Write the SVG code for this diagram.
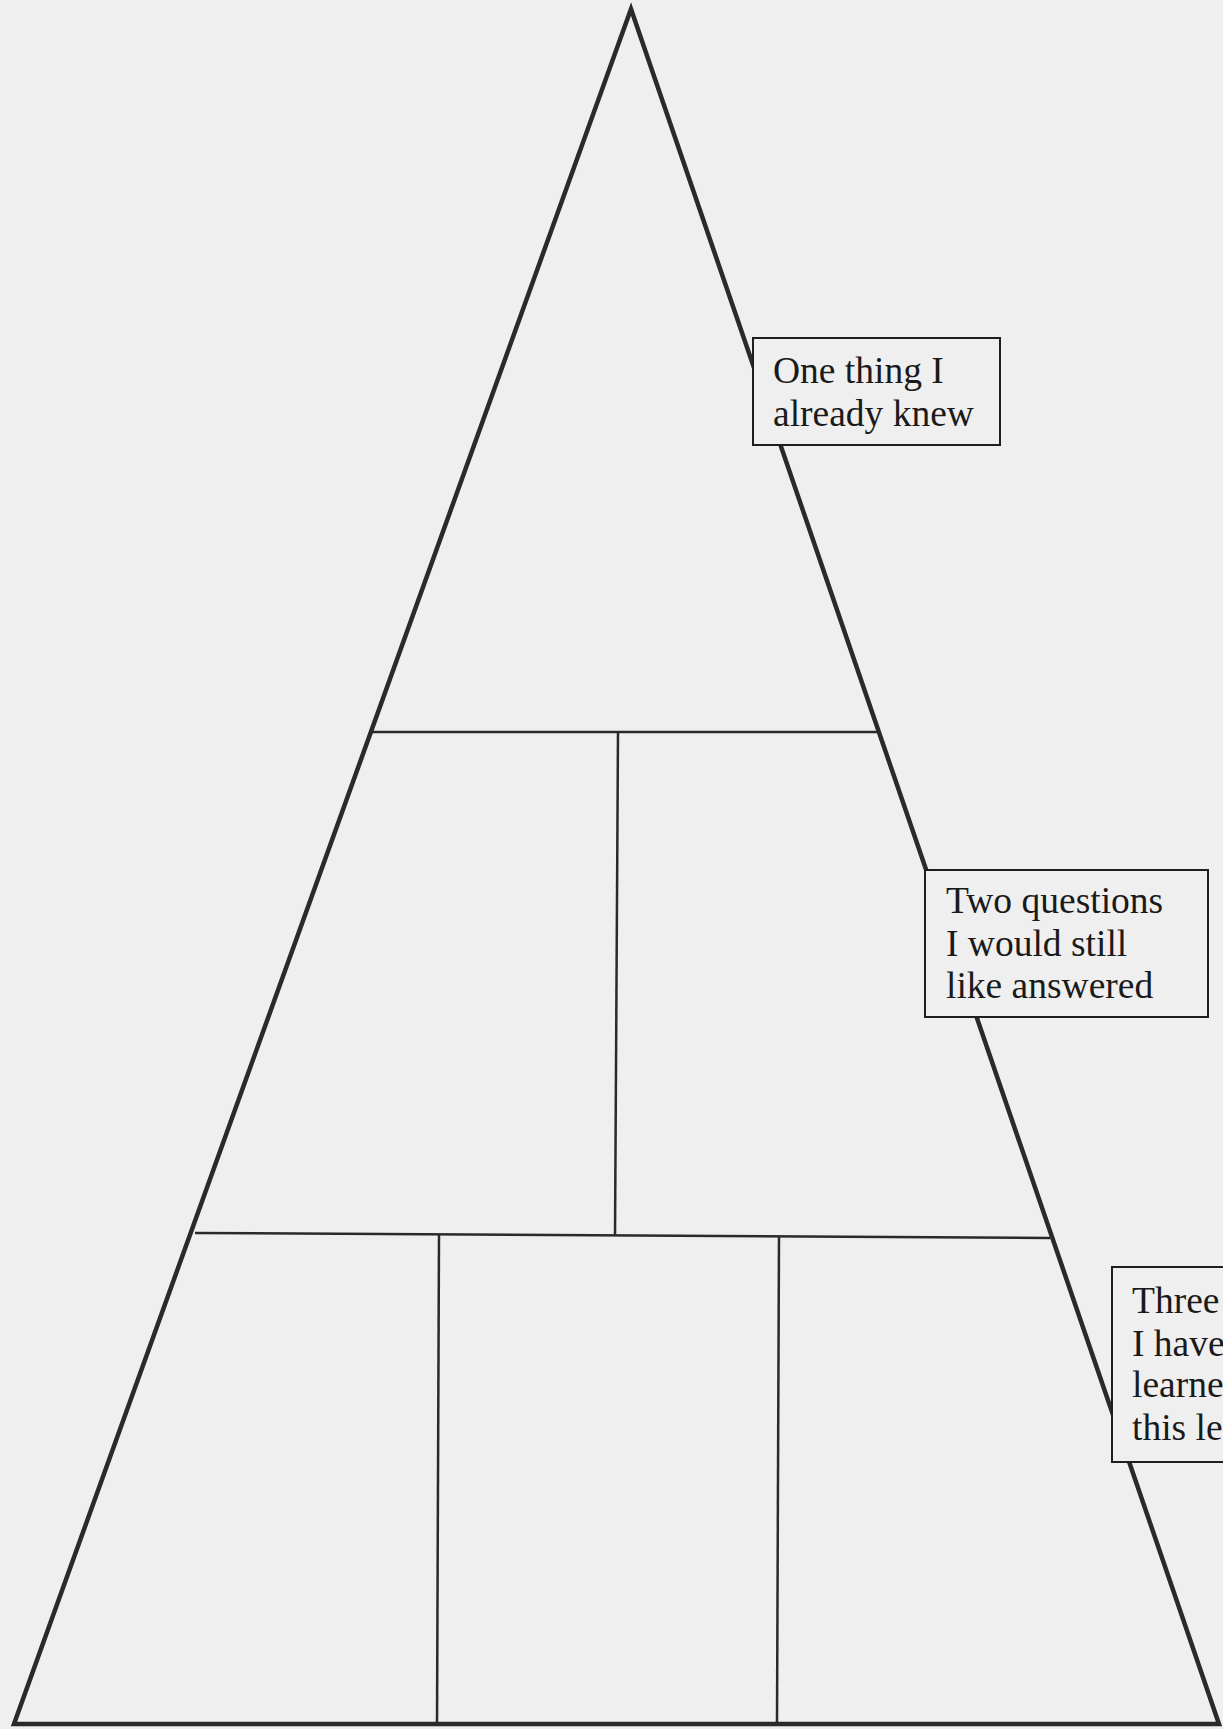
<svg xmlns="http://www.w3.org/2000/svg" width="1223" height="1729" viewBox="0 0 1223 1729">
  <style>
    .outline { fill: none; stroke: #2a2a2a; stroke-width: 4.5; stroke-linejoin: miter; }
    .divider { fill: none; stroke: #2a2a2a; stroke-width: 2.5; }
    .label-box { fill: #efefef; stroke: #1e1e1e; stroke-width: 2; }
    .label { font-family: "Liberation Serif", "Times New Roman", serif; font-size: 37.5px; fill: #1a1a1a; }
  </style>
  <rect x="0" y="0" width="1223" height="1729" fill="#efefef"/>
  <g id="pyramid">
    <polygon class="outline" points="631,9 1219,1724 14,1724"/>
  </g>
  <g id="connectors">
    <line class="divider" x1="371" y1="732" x2="879" y2="732"/>
    <line class="divider" x1="195" y1="1233" x2="1050" y2="1238"/>
    <line class="divider" x1="618" y1="732" x2="615" y2="1236"/>
    <line class="divider" x1="439" y1="1234" x2="437" y2="1724"/>
    <line class="divider" x1="779" y1="1236" x2="777" y2="1724"/>
  </g>
  <g id="label-one">
    <rect class="label-box" x="753" y="338" width="247" height="107"/>
    <text class="label" x="773" y="383">One thing I</text>
    <text class="label" x="773" y="426">already knew</text>
  </g>
  <g id="label-two">
    <rect class="label-box" x="925" y="870" width="283" height="147"/>
    <text class="label" x="946" y="913">Two questions</text>
    <text class="label" x="946" y="956">I would still</text>
    <text class="label" x="946" y="998">like answered</text>
  </g>
  <g id="label-three">
    <rect class="label-box" x="1112" y="1267" width="140" height="195"/>
    <text class="label" x="1132" y="1313">Three</text>
    <text class="label" x="1132" y="1356">I have</text>
    <text class="label" x="1132" y="1397">learne</text>
    <text class="label" x="1132" y="1440">this le</text>
  </g>
</svg>
